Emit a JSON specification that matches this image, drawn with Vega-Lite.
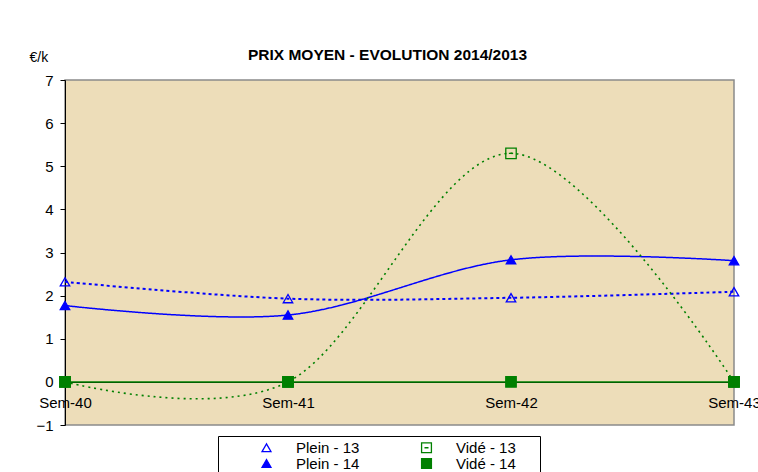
{
  "$schema": "https://vega.github.io/schema/vega-lite/v6.json",
  "width": 669,
  "height": 345,
  "autosize": {"type": "none"},
  "padding": {"left": 65, "top": 80, "right": 24, "bottom": 47},
  "background": "white",
  "title": {
    "text": "PRIX MOYEN - EVOLUTION 2014/2013",
    "font": "Liberation Sans",
    "fontSize": 15.5,
    "fontWeight": "bold",
    "color": "black",
    "anchor": "middle",
    "dx": -12,
    "dy": 31,
    "offset": 18
  },
  "config": {
    "view": {"fill": "#EDDDB9", "stroke": "#8a8a8a", "strokeWidth": 1.5},
    "font": "Liberation Sans",
    "legend": {
      "title": null,
      "orient": "none",
      "legendX": 153,
      "legendY": 356,
      "columns": 2,
      "direction": "horizontal",
      "strokeColor": "black",
      "fillColor": "white",
      "padding": 4,
      "rowPadding": -2,
      "columnPadding": 3,
      "labelFont": "Liberation Sans",
      "labelFontSize": 15,
      "labelColor": "black",
      "symbolSize": 80,
      "symbolOffset": 37,
      "labelOffset": 22,
      "symbolStrokeWidth": 1.3
    }
  },
  "data": {
    "values": [
      {"week": "Sem-40", "series": "Plein - 13", "value": 2.32},
      {"week": "Sem-41", "series": "Plein - 13", "value": 1.93},
      {"week": "Sem-42", "series": "Plein - 13", "value": 1.95},
      {"week": "Sem-43", "series": "Plein - 13", "value": 2.09},
      {"week": "Sem-40", "series": "Plein - 14", "value": 1.77},
      {"week": "Sem-41", "series": "Plein - 14", "value": 1.55},
      {"week": "Sem-42", "series": "Plein - 14", "value": 2.83},
      {"week": "Sem-43", "series": "Plein - 14", "value": 2.81},
      {"week": "Sem-40", "series": "Vidé - 13", "value": 0},
      {"week": "Sem-41", "series": "Vidé - 13", "value": 0},
      {"week": "Sem-42", "series": "Vidé - 13", "value": 5.3},
      {"week": "Sem-43", "series": "Vidé - 13", "value": 0},
      {"week": "Sem-40", "series": "Vidé - 14", "value": 0},
      {"week": "Sem-41", "series": "Vidé - 14", "value": 0},
      {"week": "Sem-42", "series": "Vidé - 14", "value": 0},
      {"week": "Sem-43", "series": "Vidé - 14", "value": 0}
    ]
  },
  "encoding": {
    "x": {
      "field": "week",
      "type": "ordinal",
      "scale": {"type": "point", "padding": 0},
      "axis": {
        "title": null,
        "labelAngle": 0,
        "labelFont": "Liberation Sans",
        "labelFontSize": 15,
        "labelColor": "black",
        "domainColor": "black",
        "ticks": false,
        "offset": -43,
        "labelPadding": 13
      }
    },
    "y": {
      "field": "value",
      "type": "quantitative",
      "scale": {"domain": [-1, 7], "nice": false},
      "axis": {
        "values": [-1, 0, 1, 2, 3, 4, 5, 6, 7],
        "grid": false,
        "title": "€/k",
        "titleAngle": 0,
        "titleX": -36,
        "titleY": -16,
        "titleAlign": "left",
        "titleFont": "Liberation Sans",
        "titleFontSize": 14,
        "titleFontWeight": "normal",
        "titleColor": "black",
        "labelFont": "Liberation Sans",
        "labelFontSize": 15,
        "labelColor": "black",
        "domainColor": "black",
        "tickColor": "black",
        "tickSize": 5,
        "labelPadding": 7
      }
    },
    "color": {
      "field": "series",
      "type": "nominal",
      "scale": {
        "domain": ["Plein - 13", "Vidé - 13", "Plein - 14", "Vidé - 14"],
        "range": ["#0000FF", "#008000", "#0000FF", "#008000"]
      },
      "legend": {
        "labelExpr": "datum.label + '\u00a0\u00a0\u2800'",
        "encoding": {
          "symbols": {
            "strokeDash": {"value": [1, 0]},
            "shape": {"value": {"expr": "datum.value === 'Plein - 13' ? 'M-5.6,0H-4.8M-4.2,0H-3.4M-2.8,0H-2M0,-1.1L1.1,1L-1.1,1ZM2,0H2.8M3.4,0H4.2M4.8,0H5.6' : datum.value === 'Plein - 14' ? 'M-5.6,0H5.6M0,-1.1L1.1,1L-1.1,1Z' : datum.value === 'Vidé - 13' ? 'M-5.6,0H-4.8M-4.2,0H-3.4M-2.8,0H-2M-1.1,-1.1H1.1V1.1H-1.1ZM-0.4,0H0.4M2,0H2.8M3.4,0H4.2M4.8,0H5.6' : 'M-5.6,0H5.6M-1.1,-1.1H1.1V1.1H-1.1Z'"}}
          }
        }
      }
    }
  },
  "layer": [
    {
      "mark": {"type": "line", "interpolate": "cardinal", "tension": 0},
      "encoding": {
        "strokeDash": {
          "condition": [
            {"test": "datum.series === 'Plein - 13'", "value": [3, 3]},
            {"test": "datum.series === 'Vidé - 13'", "value": [2, 4]}
          ],
          "value": [1, 0]
        },
        "strokeWidth": {
          "condition": [
            {"test": "datum.series === 'Plein - 13'", "value": 2},
            {"test": "datum.series === 'Vidé - 13'", "value": 1.6}
          ],
          "value": 1.5
        }
      }
    },
    {
      "mark": {"type": "point", "filled": false, "opacity": 1, "strokeWidth": 1.3, "size": 90},
      "encoding": {
        "shape": {
          "field": "series",
          "type": "nominal",
          "scale": {
            "domain": ["Plein - 13", "Vidé - 13", "Plein - 14", "Vidé - 14"],
            "range": ["triangle-up", "M-1.1,-1.1H1.1V1.1H-1.1Z M-0.45,0H0.45", "triangle-up", "M-1.1,-1.1H1.1V1.1H-1.1Z"]
          },
          "legend": {
            "labelExpr": "datum.label + '\u00a0\u00a0\u2800'",
            "encoding": {
              "symbols": {
                "strokeDash": {"value": [1, 0]},
                "shape": {"value": {"expr": "datum.value === 'Plein - 13' ? 'M-5.6,0H-4.8M-4.2,0H-3.4M-2.8,0H-2M0,-1.1L1.1,1L-1.1,1ZM2,0H2.8M3.4,0H4.2M4.8,0H5.6' : datum.value === 'Plein - 14' ? 'M-5.6,0H5.6M0,-1.1L1.1,1L-1.1,1Z' : datum.value === 'Vidé - 13' ? 'M-5.6,0H-4.8M-4.2,0H-3.4M-2.8,0H-2M-1.1,-1.1H1.1V1.1H-1.1ZM-0.4,0H0.4M2,0H2.8M3.4,0H4.2M4.8,0H5.6' : 'M-5.6,0H5.6M-1.1,-1.1H1.1V1.1H-1.1Z'"}}
              }
            }
          }
        },
        "fill": {
          "field": "series",
          "type": "nominal",
          "scale": {
            "domain": ["Plein - 13", "Vidé - 13", "Plein - 14", "Vidé - 14"],
            "range": ["transparent", "transparent", "#0000FF", "#008000"]
          },
          "legend": {
            "labelExpr": "datum.label + '\u00a0\u00a0\u2800'",
            "encoding": {
              "symbols": {
                "strokeDash": {"value": [1, 0]},
                "shape": {"value": {"expr": "datum.value === 'Plein - 13' ? 'M-5.6,0H-4.8M-4.2,0H-3.4M-2.8,0H-2M0,-1.1L1.1,1L-1.1,1ZM2,0H2.8M3.4,0H4.2M4.8,0H5.6' : datum.value === 'Plein - 14' ? 'M-5.6,0H5.6M0,-1.1L1.1,1L-1.1,1Z' : datum.value === 'Vidé - 13' ? 'M-5.6,0H-4.8M-4.2,0H-3.4M-2.8,0H-2M-1.1,-1.1H1.1V1.1H-1.1ZM-0.4,0H0.4M2,0H2.8M3.4,0H4.2M4.8,0H5.6' : 'M-5.6,0H5.6M-1.1,-1.1H1.1V1.1H-1.1Z'"}}
              }
            }
          }
        }
      }
    }
  ]
}
